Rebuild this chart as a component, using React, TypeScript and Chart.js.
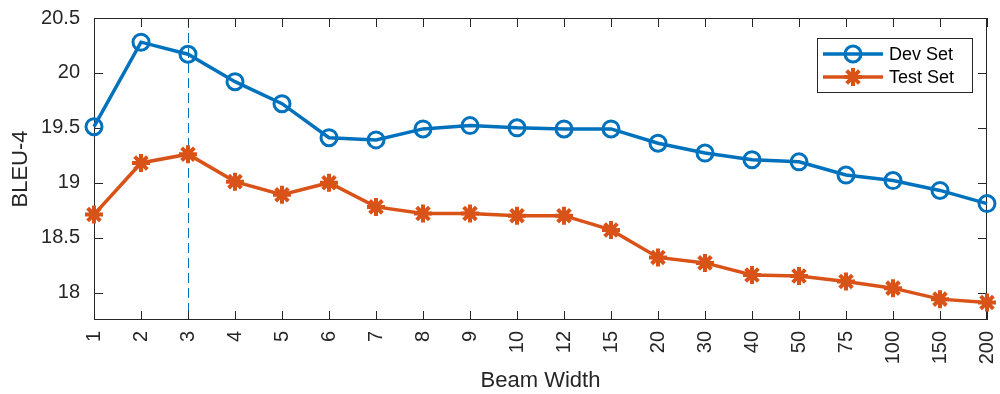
import React, { useEffect, useRef } from 'react';
import { Chart, registerables } from 'chart.js';
import { drawPoint } from 'chart.js/helpers';

Chart.register(...registerables);

const beamWidths = ['1', '2', '3', '4', '5', '6', '7', '8', '9', '10', '12', '15', '20', '30', '40', '50', '75', '100', '150', '200'];
const devSet = [19.51, 20.28, 20.17, 19.92, 19.72, 19.41, 19.39, 19.49, 19.52, 19.5, 19.49, 19.49, 19.36, 19.27, 19.21, 19.19, 19.07, 19.02, 18.93, 18.81];
const testSet = [18.71, 19.18, 19.26, 19.01, 18.89, 19.0, 18.78, 18.72, 18.72, 18.7, 18.7, 18.57, 18.32, 18.27, 18.16, 18.15, 18.1, 18.04, 17.94, 17.91];
const yTicks = [18, 18.5, 19, 19.5, 20, 20.5];
const markedBeam = '3';
const seriesNames = ['Dev Set', 'Test Set'];

const BLUE = '#0072BD';
const ORANGE = '#D95319';
const AXIS = '#262626';
const FONT = '"Liberation Sans", Arial, Helvetica, sans-serif';

const framePlugin = {
  id: 'matlabFrame',
  beforeDatasetsDraw(chart: any) {
    const { ctx, chartArea } = chart;
    const { left, right, top, bottom } = chartArea;
    const x = chart.scales.x;
    const y = chart.scales.y;
    ctx.save();
    // dashed marker line
    const xi = Math.round(x.getPixelForValue(beamWidths.indexOf(markedBeam))) + 0.5;
    ctx.strokeStyle = BLUE;
    ctx.lineWidth = 1;
    ctx.setLineDash([10, 5]);
    ctx.beginPath();
    ctx.moveTo(xi, top);
    ctx.lineTo(xi, bottom);
    ctx.stroke();
    ctx.setLineDash([]);
    // box
    ctx.strokeStyle = AXIS;
    ctx.lineWidth = 1;
    ctx.strokeRect(left + 0.5, top + 0.5, right - left - 1, bottom - top - 1);
    // inward ticks
    const tl = 9;
    ctx.beginPath();
    beamWidths.forEach((_, i) => {
      const px = Math.round(x.getPixelForValue(i)) + 0.5;
      ctx.moveTo(px, bottom);
      ctx.lineTo(px, bottom - tl);
      ctx.moveTo(px, top);
      ctx.lineTo(px, top + tl);
    });
    yTicks.forEach((v) => {
      const py = Math.round(y.getPixelForValue(v)) + 0.5;
      ctx.moveTo(left, py);
      ctx.lineTo(left + tl, py);
      ctx.moveTo(right, py);
      ctx.lineTo(right - tl, py);
    });
    ctx.stroke();
    ctx.restore();
  },
  afterDraw(chart: any) {
    const { ctx } = chart;
    const bx = 817, by = 38, bw = 155, bh = 54;
    ctx.save();
    ctx.fillStyle = '#ffffff';
    ctx.fillRect(bx, by, bw, bh);
    ctx.strokeStyle = AXIS;
    ctx.lineWidth = 1;
    ctx.strokeRect(bx + 0.5, by + 0.5, bw, bh);
    const rows = [54, 77];
    chart.data.datasets.forEach((ds: any, i: number) => {
      const ry = rows[i];
      ctx.strokeStyle = ds.borderColor;
      ctx.lineWidth = ds.borderWidth;
      ctx.beginPath();
      ctx.moveTo(823, ry);
      ctx.lineTo(883, ry);
      ctx.stroke();
      ctx.strokeStyle = ds.pointBorderColor;
      ctx.fillStyle = ds.pointBackgroundColor;
      ctx.lineWidth = ds.pointBorderWidth;
      drawPoint(ctx, { pointStyle: ds.pointStyle, rotation: 0, radius: ds.pointRadius, borderWidth: ds.pointBorderWidth }, 853, ry);
      ctx.fillStyle = '#000000';
      ctx.font = `18px ${FONT}`;
      ctx.textAlign = 'left';
      ctx.textBaseline = 'middle';
      ctx.fillText(ds.label, 889, ry + 1);
    });
    ctx.restore();
  },
};

export default function App() {
  const ref = useRef<HTMLCanvasElement>(null);
  useEffect(() => {
    if (!ref.current) return;
    const chart = new Chart(ref.current, {
      type: 'line',
      data: {
        labels: beamWidths,
        datasets: [
          {
            label: seriesNames[0],
            data: devSet,
            borderColor: BLUE,
            borderWidth: 3.5,
            pointStyle: 'circle',
            pointRadius: 8,
            pointHoverRadius: 8,
            pointBorderWidth: 3,
            pointBorderColor: BLUE,
            pointBackgroundColor: 'rgba(0,0,0,0)',
            tension: 0,
            clip: false,
          } as any,
          {
            label: seriesNames[1],
            data: testSet,
            borderColor: ORANGE,
            borderWidth: 3.5,
            pointStyle: 'star',
            pointRadius: 9,
            pointHoverRadius: 9,
            pointBorderWidth: 4,
            pointBorderColor: ORANGE,
            pointBackgroundColor: ORANGE,
            tension: 0,
            clip: false,
          } as any,
        ],
      },
      options: {
        animation: false,
        responsive: false,
        events: [],
        layout: { padding: { top: 18, right: 7, left: 0, bottom: 0 } },
        plugins: { legend: { display: false }, tooltip: { enabled: false } },
        scales: {
          x: {
            type: 'category',
            offset: false,
            grid: { display: false, drawTicks: false },
            border: { display: false },
            ticks: {
              autoSkip: false,
              minRotation: 90,
              maxRotation: 90,
              padding: 11,
              color: AXIS,
              font: { family: FONT, size: 20 },
            },
            title: {
              display: true,
              text: 'Beam Width',
              color: AXIS,
              font: { family: FONT, size: 22 },
              padding: { top: 0, bottom: 0 },
            },
            afterFit(scale: any) {
              scale.height = 74;
              scale.paddingLeft = 0;
              scale.paddingRight = 0;
              scale.paddingTop = 0;
              scale.paddingBottom = 0;
            },
          },
          y: {
            min: 17.75,
            max: 20.5,
            grid: { display: false, drawTicks: false },
            border: { display: false },
            afterBuildTicks(scale: any) {
              scale.ticks = yTicks.map((v) => ({ value: v }));
            },
            ticks: {
              padding: 14,
              color: AXIS,
              font: { family: FONT, size: 20 },
              callback: (v: any) => String(v),
            },
            title: {
              display: true,
              text: 'BLEU-4',
              color: AXIS,
              font: { family: FONT, size: 22 },
              padding: { top: 8, bottom: 0 },
            },
            afterFit(scale: any) {
              scale.width = 94;
              scale.paddingLeft = 0;
              scale.paddingRight = 0;
              scale.paddingTop = 0;
              scale.paddingBottom = 0;
            },
          },
        },
      } as any,
      plugins: [framePlugin],
    });
    return () => chart.destroy();
  }, []);
  return (
    <div style={{ position: 'absolute', left: 0, top: 0, width: 1000, height: 394, background: '#fff' }}>
      <canvas ref={ref} width={1000} height={394} />
    </div>
  );
}
